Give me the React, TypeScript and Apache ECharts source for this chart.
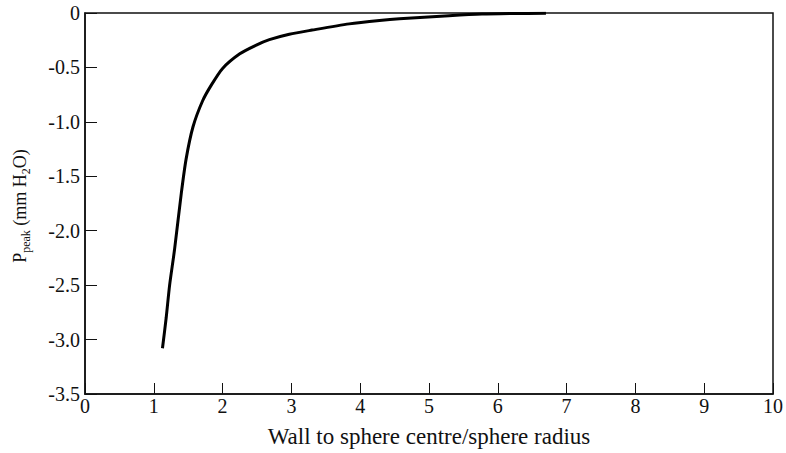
import React, { useEffect, useRef } from "react";
import * as echarts from "echarts";

const ratio = [1.126, 1.18, 1.23, 1.3, 1.4, 1.47, 1.57, 1.71, 1.84, 2.0, 2.25, 2.49, 2.68, 2.97, 3.3, 3.84, 4.28, 4.57, 5.29, 5.77, 6.2, 6.7];
const pPeak = [-3.08, -2.8, -2.5, -2.18, -1.655, -1.34, -1.045, -0.806, -0.658, -0.509, -0.375, -0.295, -0.245, -0.195, -0.157, -0.1, -0.068, -0.052, -0.025, -0.01, -0.005, -0.002];
const xTicks = [0, 1, 2, 3, 4, 5, 6, 7, 8, 9, 10];
const yTicks = [0, -0.5, -1.0, -1.5, -2.0, -2.5, -3.0, -3.5];

const FONT = "'Liberation Serif', 'Times New Roman', serif";

export default function App() {
  const ref = useRef<HTMLDivElement>(null);
  useEffect(() => {
    if (!ref.current) return;
    const chart = echarts.init(ref.current, undefined, { renderer: "svg" });
    chart.setOption({
      animation: false,
      backgroundColor: "#ffffff",
      textStyle: { fontFamily: FONT },
      grid: {
        left: 85,
        right: 11,
        top: 13,
        bottom: 48,
        show: true,
        borderColor: "#111",
        borderWidth: 1.5,
        backgroundColor: "transparent",
      },
      graphic: [
        {
          type: "text",
          x: 21,
          y: 206,
          rotation: Math.PI / 2,
          style: {
            text: "{a|P}{s|peak}{a| (mm H}{s|2}{a|O)}",
            align: "center",
            verticalAlign: "middle",
            fill: "#111",
            fontFamily: FONT,
            rich: {
              a: { fontFamily: FONT, fontSize: 18, fill: "#111", lineHeight: 20, verticalAlign: "top" },
              s: { fontFamily: FONT, fontSize: 12, fill: "#111", lineHeight: 20, verticalAlign: "top", padding: [9, 0, 0, 0] },
            },
          },
        },
      ],
      xAxis: {
        type: "value",
        min: xTicks[0],
        max: xTicks[xTicks.length - 1],
        interval: 1,
        name: "Wall to sphere centre/sphere radius",
        nameLocation: "middle",
        nameGap: 31,
        nameTextStyle: { fontFamily: FONT, fontSize: 23, color: "#111" },
        axisLine: { show: true, onZero: false, lineStyle: { color: "#111", width: 1.5 } },
        axisTick: { show: true, inside: true, length: 11, lineStyle: { color: "#111", width: 1 } },
        axisLabel: { fontFamily: FONT, fontSize: 20, color: "#111", margin: 2 },
        splitLine: { show: false },
      },
      yAxis: {
        type: "value",
        min: yTicks[yTicks.length - 1],
        max: yTicks[0],
        interval: 0.5,
        axisLine: { show: true, onZero: false, lineStyle: { color: "#111", width: 1.5 } },
        axisTick: { show: true, inside: true, length: 12, lineStyle: { color: "#111", width: 1 } },
        axisLabel: {
          fontFamily: FONT,
          fontSize: 20,
          color: "#111",
          margin: 5,
          formatter: (v: number) => (v === 0 ? "0" : v.toFixed(1)),
        },
        splitLine: { show: false },
      },
      series: [
        {
          type: "line",
          data: ratio.map((x, i) => [x, pPeak[i]]),
          showSymbol: false,
          smooth: 0.25,
          lineStyle: { color: "#000", width: 3 },
        },
      ],
    });
    return () => chart.dispose();
  }, []);
  return <div ref={ref} style={{ width: 786, height: 453, position: "absolute", left: 0, top: 0 }} />;
}
